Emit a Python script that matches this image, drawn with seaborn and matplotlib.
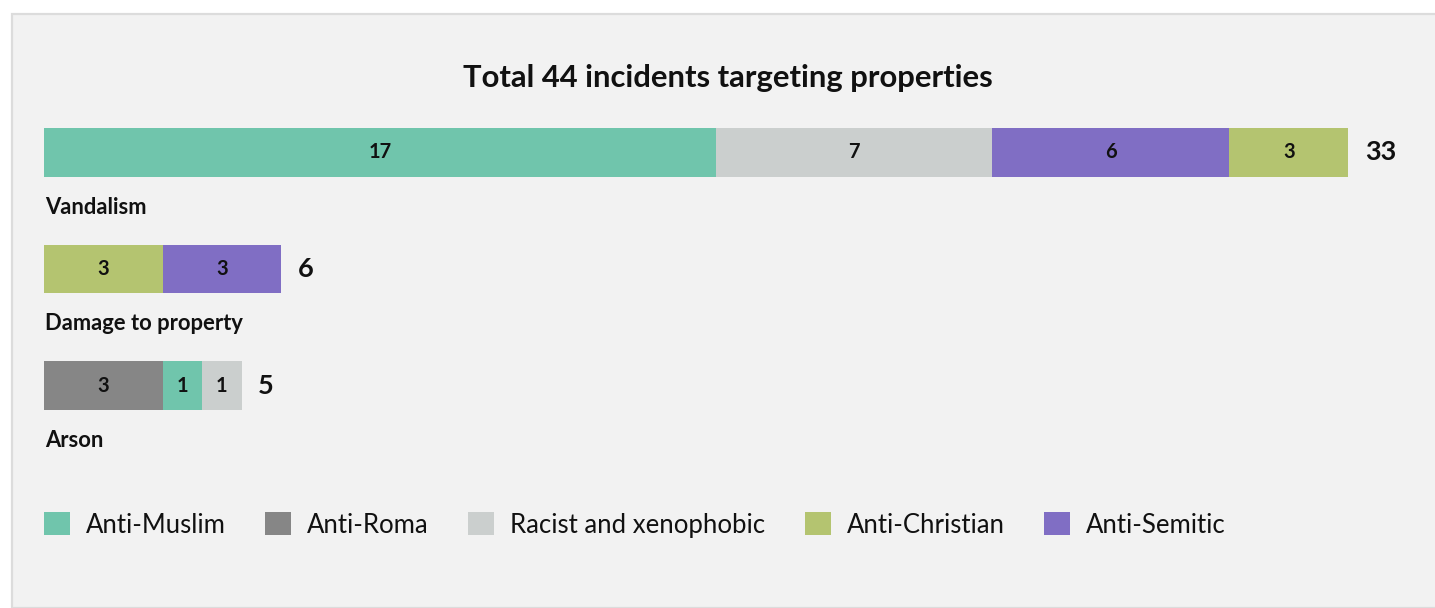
import matplotlib
matplotlib.use("Agg")
import matplotlib.pyplot as plt
from matplotlib.patches import Patch, Rectangle
import pandas as pd
import seaborn as sns

# data
rows = ["Vandalism", "Damage to property", "Arson"]
vandalism_cats = ["Anti-Muslim", "Racist and xenophobic", "Anti-Semitic", "Anti-Christian"]
vandalism_vals = [17, 7, 6, 3]
damage_cats = ["Anti-Christian", "Anti-Semitic"]
damage_vals = [3, 3]
arson_cats = ["Anti-Roma", "Anti-Muslim", "Racist and xenophobic"]
arson_vals = [3, 1, 1]
legend_order = ["Anti-Muslim", "Anti-Roma", "Racist and xenophobic", "Anti-Christian", "Anti-Semitic"]
colors = {"Anti-Muslim": "#70c5ac", "Anti-Roma": "#868686",
          "Racist and xenophobic": "#cbcfce", "Anti-Christian": "#b4c470",
          "Anti-Semitic": "#806ec4"}
title = "Total 44 incidents targeting properties"

sns.set_theme(style="white")
plt.rcParams['font.family'] = ['Lato', 'DejaVu Sans']

# long table: one record per segment with start / end
recs = []
for row, cats, vals in zip(rows, [vandalism_cats, damage_cats, arson_cats],
                           [vandalism_vals, damage_vals, arson_vals]):
    start = 0
    n = len(vals)
    for i, (c, v) in enumerate(zip(cats, vals)):
        recs.append(dict(row=row, cat=c, val=v, start=start, end=start + v,
                         layer=n - 1 - i))
        start += v
df = pd.DataFrame(recs)
totals = df.groupby("row", sort=False)["val"].sum()

W, H = 1435, 608
fig = plt.figure(figsize=(W / 100, H / 100), dpi=100, facecolor="white")
# grey panel
fig.add_artist(Rectangle((11.5 / W, 0), 1, 1 - 13.5 / H, transform=fig.transFigure,
                         facecolor="#f2f2f2", edgecolor="#dcdcdc", linewidth=1.6,
                         zorder=-10))

px_per_unit = 1304 / 33
top_px, bot_px = 94.25, 478.7
ax = fig.add_axes([44 / W, 1 - bot_px / H, 1 - 44 / W, (bot_px - top_px) / H])
ax.set_facecolor("none")

# draw the stacked bars as overlapping cumulative bars (outermost first)
for layer in sorted(df["layer"].unique()):
    sub = df[df["layer"] == layer]
    sns.barplot(data=sub, x="end", y="row", hue="cat", order=rows, palette=colors,
                dodge=False, width=0.42, linewidth=0, errorbar=None, saturation=1,
                legend=False, ax=ax, orient="h")

ax.set_xlim(0, (W - 44) / px_per_unit)
ax.set_ylim(2.8, -0.5)
ax.axis("off")

for _, r in df.iterrows():
    yi = rows.index(r["row"])
    ax.text(r["start"] + r["val"] / 2, yi, str(r["val"]), ha="center", va="center",
            fontsize=14.5, fontweight="bold", color="#111111")

for yi, row in enumerate(rows):
    ax.annotate(str(totals[row]), (totals[row], yi), xytext=(12, 0),
                textcoords="offset points", ha="left", va="center",
                fontsize=19.5, fontweight="bold", color="#111111")
    ax.text(0.03, yi + 0.47, row, ha="left", va="center", fontsize=15.8,
            fontweight="bold", color="#111111")

fig.text(728 / W, 1 - 78 / H, title, ha="center", va="center", fontsize=22.3,
         fontweight="bold", color="#111111")

handles = [Patch(facecolor=colors[c], edgecolor="none", label=c) for c in legend_order]
fig.legend(handles=handles, loc="center left", bbox_to_anchor=(44 / W, 1 - 525 / H),
           ncol=5, frameon=False, fontsize=18.5, handlelength=1.0, handleheight=1.0,
           handletextpad=0.62, columnspacing=1.55, labelcolor="#111111",
           borderpad=0, borderaxespad=0)

fig.savefig("out.png", dpi=100, facecolor="white")
